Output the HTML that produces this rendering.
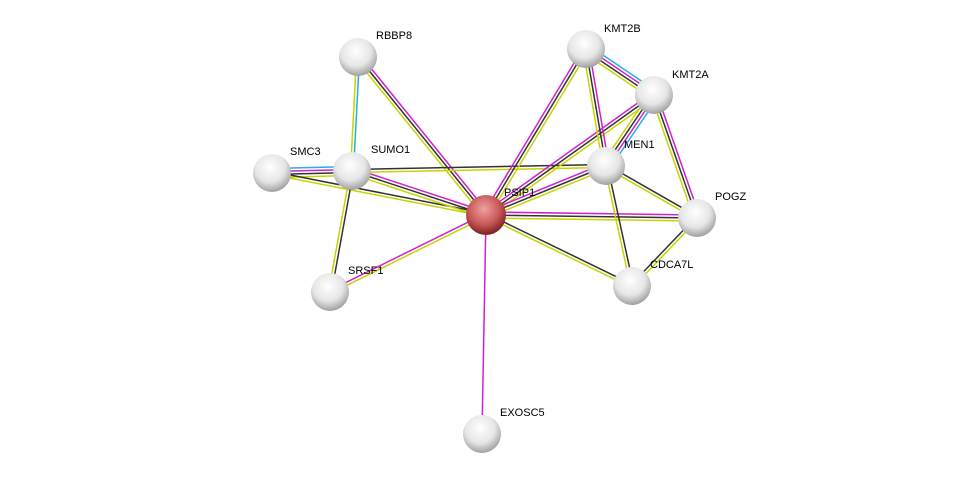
<!DOCTYPE html>
<html><head><meta charset="utf-8"><style>
body{margin:0;background:#fff;width:976px;height:479px;overflow:hidden}
svg text{font-family:"Liberation Sans",sans-serif;font-size:11px;fill:#000}
</style></head><body>
<svg id="s" width="976" height="479" xmlns="http://www.w3.org/2000/svg">
<defs>
<radialGradient id="g" cx="0.45" cy="0.35" r="0.65">
<stop offset="0" stop-color="#ffffff"/><stop offset="0.6" stop-color="#e6e6e6"/><stop offset="1" stop-color="#a0a0a0"/></radialGradient>
<radialGradient id="r" cx="0.45" cy="0.35" r="0.65">
<stop offset="0" stop-color="#f0a0a0"/><stop offset="0.6" stop-color="#c85858"/><stop offset="1" stop-color="#7a2020"/></radialGradient>
</defs>
<g id="edges"></g>
<g id="nodes"></g>
<text x="376" y="39">RBBP8</text>
<text x="604" y="32">KMT2B</text>
<text x="672" y="78">KMT2A</text>
<text x="624" y="148">MEN1</text>
<text x="290" y="155">SMC3</text>
<text x="371" y="153">SUMO1</text>
<text x="504" y="196">PSIP1</text>
<text x="715" y="200">POGZ</text>
<text x="348" y="274">SRSF1</text>
<text x="650" y="268">CDCA7L</text>
<text x="500" y="416">EXOSC5</text>
</svg>
<script>
var N={RBBP8:[358,57],KMT2B:[586,49],KMT2A:[654,95],MEN1:[606,166],SMC3:[272,173],SUMO1:[352,171],PSIP1:[486,215],POGZ:[697,218],SRSF1:[330,292],CDCA7L:[632,286],EXOSC5:[482,434]};
var C={y:"#c8d400",m:"#d020d0",k:"#333",b:"#20b0e0"};
var E=[["RBBP8","PSIP1","mky"],["RBBP8","SUMO1","by"],["SMC3","SUMO1","bmky"],["SMC3","PSIP1","ky"],["SUMO1","PSIP1","mky"],["SUMO1","MEN1","ky"],["SUMO1","SRSF1","ky"],["SRSF1","PSIP1","my"],["PSIP1","EXOSC5","m"],["PSIP1","KMT2B","mky"],["PSIP1","KMT2A","mky"],["PSIP1","MEN1","mky"],["PSIP1","POGZ","mky"],["PSIP1","CDCA7L","ky"],["KMT2B","KMT2A","bmky"],["KMT2B","MEN1","mky"],["KMT2A","MEN1","bmky"],["KMT2A","POGZ","mky"],["MEN1","POGZ","ky"],["MEN1","CDCA7L","ky"],["CDCA7L","POGZ","ky"]];
var ns="http://www.w3.org/2000/svg",eg=document.getElementById("edges"),ng=document.getElementById("nodes");
E.forEach(function(e){var a=N[e[0]],b=N[e[1]],dx=b[0]-a[0],dy=b[1]-a[1],L=Math.hypot(dx,dy),px=-dy/L,py=dx/L,n=e[2].length;
for(var i=0;i<n;i++){var o=(i-(n-1)/2)*3,l=document.createElementNS(ns,"line");
l.setAttribute("x1",a[0]+px*o);l.setAttribute("y1",a[1]+py*o);l.setAttribute("x2",b[0]+px*o);l.setAttribute("y2",b[1]+py*o);
l.setAttribute("stroke",C[e[2][i]]);l.setAttribute("stroke-width","1.5");eg.appendChild(l);}});
for(var k in N){var c=document.createElementNS(ns,"circle");c.setAttribute("cx",N[k][0]);c.setAttribute("cy",N[k][1]);c.setAttribute("r",k=="PSIP1"?20:19);
c.setAttribute("fill",k=="PSIP1"?"url(#r)":"url(#g)");ng.appendChild(c);}
</script>
</body></html>
